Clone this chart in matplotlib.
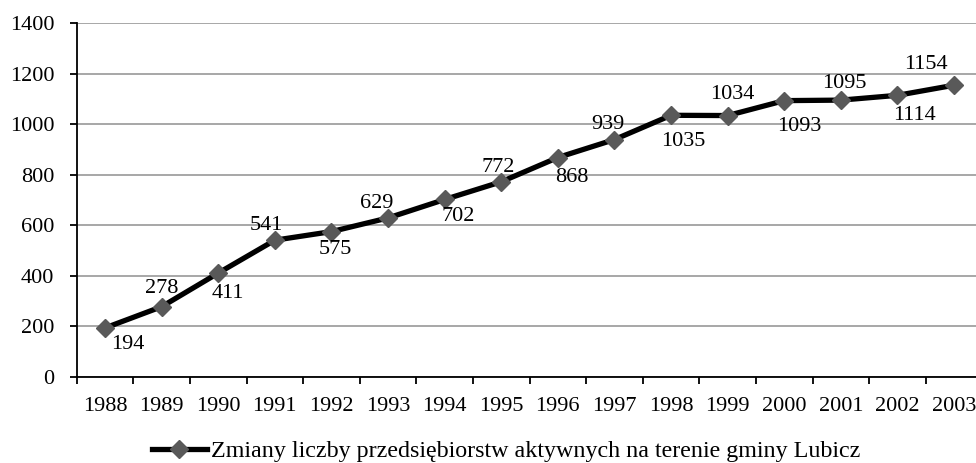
import matplotlib
matplotlib.use("Agg")
import matplotlib.pyplot as plt
import numpy as np

years = ["1988", "1989", "1990", "1991", "1992", "1993", "1994", "1995",
         "1996", "1997", "1998", "1999", "2000", "2001", "2002", "2003"]
values = [194, 278, 411, 541, 575, 629, 702, 772,
          868, 939, 1035, 1034, 1093, 1095, 1114, 1154]
series_name = "Zmiany liczby przedsiębiorstw aktywnych na terenie gminy Lubicz"

# label offsets in pixels (dx, dy)
label_offsets = [(23, -17), (0, 18), (10, -20), (-8, 15), (4, -18), (-11, 14),
                 (14, -17), (-3, 14), (14, -20), (-7, 15), (12, -26), (5, 21),
                 (15, -26), (3, 17), (17, -20), (-28, 21)]

plt.rcParams['font.family'] = ['Liberation Serif', 'DejaVu Serif']

fig = plt.figure(figsize=(9.76, 4.63), dpi=100)
ax = fig.add_axes([76.7 / 976, 86 / 463, 905.7 / 976, 354 / 463])

x = np.arange(len(years))
ax.plot(x, values, color='black', lw=3.8, marker='D', ms=9.2,
        markerfacecolor='#595959', markeredgecolor='#595959',
        label=series_name, zorder=3)

for xi, v, (dx, dy) in zip(x, values, label_offsets):
    ax.annotate(str(v), (xi, v), xytext=(dx, dy), textcoords='offset pixels',
                ha='center', va='center', fontsize=16, color='black', zorder=4)

ax.set_xlim(-0.5, len(years) - 0.5)
ax.set_ylim(0, 1400)
ax.set_yticks(range(0, 1401, 200))
ax.yaxis.grid(True, color='#a0a0a0', lw=1.3)
ax.set_axisbelow(True)

ax.set_xticks(x)
ax.set_xticklabels(years)
ax.set_xticks(np.arange(-0.5, len(years), 1), minor=True)
ax.tick_params(axis='x', which='major', length=0, pad=14.5, labelsize=16)
ax.tick_params(axis='x', which='minor', length=5, width=1.3, direction='out')
ax.tick_params(axis='y', length=5, width=1.3, pad=11, labelsize=16)

for s in ['top', 'right']:
    ax.spines[s].set_visible(False)
for s in ['left', 'bottom']:
    ax.spines[s].set_linewidth(1.3)
    ax.spines[s].set_color('black')

fig.legend(loc='center', bbox_to_anchor=(506 / 976, 1 - 451 / 463),
           frameon=False, fontsize=17.3, handlelength=2.3, handletextpad=0.17)

fig.savefig("out.png", dpi=100)
